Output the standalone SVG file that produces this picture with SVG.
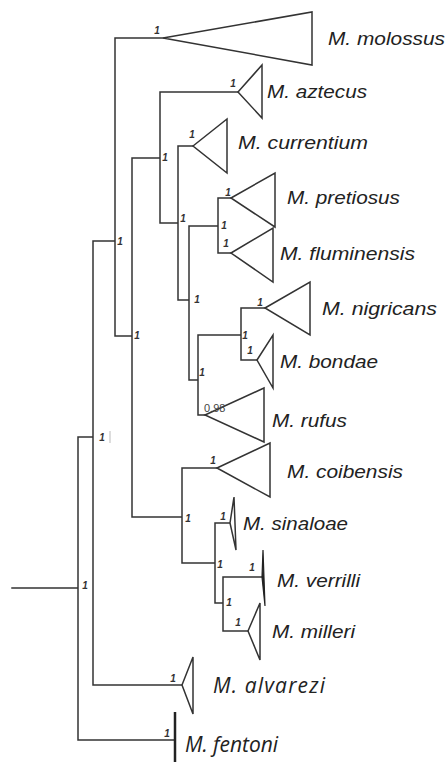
<svg xmlns="http://www.w3.org/2000/svg" width="446" height="762" viewBox="0 0 446 762">
<style>
.ln{fill:none;stroke:#333;stroke-width:1.5;stroke-linecap:square}
.tri{fill:#fff;stroke:#333;stroke-width:1.5;stroke-linejoin:miter}
.bar{fill:none;stroke:#222;stroke-width:2.5}
.sp{font-family:"Liberation Sans",Arial,sans-serif;font-style:italic;font-size:19px;fill:#222}
.sp2{font-family:"Open Sans","Liberation Sans",sans-serif;font-style:italic;font-size:21px;fill:#222}
.bs{font-family:"Liberation Sans",Arial,sans-serif;font-style:italic;font-weight:bold;font-size:10px;fill:#333;text-anchor:middle}
.pp{font-family:"Liberation Sans",Arial,sans-serif;font-size:11px;fill:#444}
</style>
<rect width="446" height="762" fill="#fff"/>
<g id="connectors">
<path class="ln" d="M12,588H78M78,437V740M78,437H93M93,241V685M93,685H182M78,740H175M93,241H115M115,38V336M115,38H163M115,336H132M132,158V517M132,158H160M160,92V223M160,92H238M160,223H178M178,146V300M178,146H193M178,300H189M189,226V380M189,226H218M218,198V253M218,198H231M218,253H231M189,380H198M198,335V415M198,335H241M241,308V360M241,308H265M241,360H257M198,415H205M132,517H182M182,468V563M182,468H217M182,563H215M215,523V603M215,523H230M215,603H223M223,577V631M223,577H263M223,631H248"/>
</g>
<g id="supports">
<text class="bs" x="85" y="589">1</text>
<text class="bs" x="102" y="441">1</text>
<line x1="110" y1="431" x2="110" y2="443" stroke="#aaa" stroke-width="0.8"/>
<text class="bs" x="120" y="245">1</text>
<text class="bs" x="137" y="339">1</text>
<text class="bs" x="165" y="161">1</text>
<text class="bs" x="183" y="222">1</text>
<text class="bs" x="197" y="303">1</text>
<text class="bs" x="224" y="229">1</text>
<text class="bs" x="202" y="376">1</text>
<text class="bs" x="245" y="339">1</text>
<text class="bs" x="188" y="522">1</text>
<text class="bs" x="220" y="568">1</text>
<text class="bs" x="229" y="606">1</text>
</g>
<g id="molossus">
<polygon class="tri" points="163,38 312,12 312,65"/>
<text class="bs" x="157" y="34">1</text>
<text class="sp" x="328" y="45" textLength="117" lengthAdjust="spacingAndGlyphs">M. molossus</text>
</g>
<g id="aztecus">
<polygon class="tri" points="238,92 262,65 262,118"/>
<text class="bs" x="233" y="87">1</text>
<text class="sp" x="267" y="98" textLength="100" lengthAdjust="spacingAndGlyphs">M. aztecus</text>
</g>
<g id="currentium">
<polygon class="tri" points="193,146 227,119 227,173"/>
<text class="bs" x="192" y="138">1</text>
<text class="sp" x="238" y="149" textLength="130" lengthAdjust="spacingAndGlyphs">M. currentium</text>
</g>
<g id="pretiosus">
<polygon class="tri" points="231,198 275,173 275,227"/>
<text class="bs" x="228" y="196">1</text>
<text class="sp" x="287" y="204" textLength="113" lengthAdjust="spacingAndGlyphs">M. pretiosus</text>
</g>
<g id="fluminensis">
<polygon class="tri" points="231,253 273,228 273,282"/>
<text class="bs" x="226" y="247">1</text>
<text class="sp" x="280" y="260" textLength="135" lengthAdjust="spacingAndGlyphs">M. fluminensis</text>
</g>
<g id="nigricans">
<polygon class="tri" points="265,308 310,282 310,335"/>
<text class="bs" x="260" y="306">1</text>
<text class="sp" x="322" y="315" textLength="115" lengthAdjust="spacingAndGlyphs">M. nigricans</text>
</g>
<g id="bondae">
<polygon class="tri" points="257,360 273,335 273,388"/>
<text class="bs" x="250" y="354">1</text>
<text class="sp" x="280" y="368" textLength="98" lengthAdjust="spacingAndGlyphs">M. bondae</text>
</g>
<g id="rufus">
<polygon class="tri" points="205,415 264,388 264,442"/>
<text class="pp" x="204" y="412">0.98</text>
<text class="sp" x="272" y="427" textLength="75" lengthAdjust="spacingAndGlyphs">M. rufus</text>
</g>
<g id="coibensis">
<polygon class="tri" points="217,468 270,443 270,497"/>
<text class="bs" x="213" y="464">1</text>
<text class="sp" x="287" y="478" textLength="116" lengthAdjust="spacingAndGlyphs">M. coibensis</text>
</g>
<g id="sinaloae">
<polygon class="tri" points="230,523 234,497 236,550" stroke-width="1.3"/>
<text class="bs" x="223" y="520">1</text>
<text class="sp" x="243" y="530" textLength="105" lengthAdjust="spacingAndGlyphs">M. sinaloae</text>
</g>
<g id="verrilli">
<polygon points="262,577 263,550 265,606" fill="#222" stroke="#222" stroke-width="1.2"/>
<text class="bs" x="252" y="571">1</text>
<text class="sp" x="277" y="587" textLength="83" lengthAdjust="spacingAndGlyphs">M. verrilli</text>
</g>
<g id="milleri">
<polygon class="tri" points="248,631 260,603 260,660"/>
<text class="bs" x="238" y="626">1</text>
<text class="sp" x="272" y="638" textLength="83" lengthAdjust="spacingAndGlyphs">M. milleri</text>
</g>
<g id="alvarezi">
<polygon class="tri" points="182,685 193,657 193,714"/>
<text class="bs" x="173" y="682">1</text>
<text class="sp2" x="213" y="693" textLength="112" lengthAdjust="spacing">M. alvarezi</text>
</g>
<g id="fentoni">
<line class="bar" x1="175" y1="712" x2="175" y2="762"/>
<text class="bs" x="167" y="737">1</text>
<text class="sp2" x="185" y="752" font-size="19" textLength="93" lengthAdjust="spacing">M. fentoni</text>
</g>
</svg>
